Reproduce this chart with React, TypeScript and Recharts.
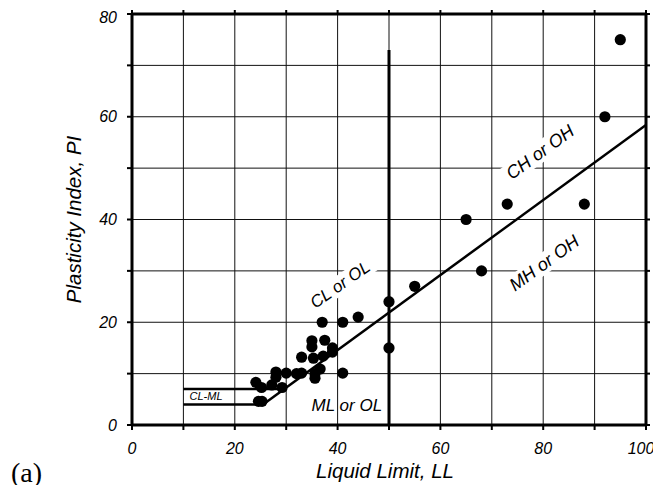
import React from "react";
import {
  ScatterChart,
  Scatter,
  XAxis,
  YAxis,
  CartesianGrid,
  ReferenceDot,
  Label,
} from "recharts";

// soil samples (liquid limit, plasticity index)
const sampleLL = [
  95, 92, 73, 88, 65, 68, 55, 50, 50, 44, 41, 37, 35, 35, 37.5, 39, 39, 37.2,
  35.3, 33, 36.6, 35.6, 35.6, 41, 33, 32, 30, 28, 28, 27.2, 29.2, 24.1, 25.2,
  24.6, 25.3,
];
const samplePI = [
  75, 60, 43, 43, 40, 30, 27, 24, 15, 21, 20, 20, 16.4, 15.2, 16.5, 15, 14.2,
  13.4, 13, 13.2, 10.9, 10, 9.1, 10.1, 10.1, 10, 10.1, 10.3, 9.3, 7.8, 7.3, 8.3,
  7.3, 4.6, 4.6,
];

// chart boundaries
const aLineLL = [25.5, 100];
const aLinePI = [4, 58.4];
const uLineLL = [50, 50];
const uLinePI = [0, 73];
const pi4LL = [10, 25.5];
const pi4PI = [4, 4];
const pi7LL = [10, 29.6];
const pi7PI = [7, 7];

const xTicks = [0, 10, 20, 30, 40, 50, 60, 70, 80, 90, 100];
const yTicks = [0, 10, 20, 30, 40, 50, 60, 70, 80];

// zone labels: text, LL, PI, size, angle, white box
const zoneText = ["CL or OL", "CH or OH", "MH or OH", "ML or OL", "CL-ML"];
const zoneLL = [40.5, 79.4, 80.2, 41.8, 14.4];
const zonePI = [27.3, 53.1, 31.5, 3.7, 5.6];
const zoneSize = [17, 18, 18, 17, 11];
const zoneAngle = [-35, -36, -36, 0, 0];
const zoneBox = [true, true, true, false, false];

const pairs = (xs: number[], ys: number[]) =>
  xs.map((x, i) => ({ ll: x, pi: ys[i] }));

const samples = pairs(sampleLL, samplePI);

const font = '"Liberation Sans", Arial, sans-serif';

const noDot = () => <g />;

const Dot = (props: any) => (
  <circle cx={props.cx} cy={props.cy} r={5.6} fill="#000" />
);

const tickStyle = {
  fill: "#000",
  fontSize: 16,
  fontStyle: "italic",
  fontFamily: font,
};

const fmt = (v: number) => (v % 20 === 0 ? String(v) : "");

function zoneShape(i: number) {
  return (props: any) => {
    const { cx, cy } = props;
    const w = zoneText[i].length * zoneSize[i] * 0.55;
    return (
      <g transform={`rotate(${zoneAngle[i]} ${cx} ${cy})`}>
        {zoneBox[i] && (
          <rect
            x={cx - w / 2 - 3}
            y={cy - zoneSize[i] / 2 - 1}
            width={w + 6}
            height={zoneSize[i] + 2}
            fill="#fff"
          />
        )}
        <text
          x={cx}
          y={cy}
          textAnchor="middle"
          dominantBaseline="central"
          fontFamily={font}
          fontStyle="italic"
          fontSize={zoneSize[i]}
          fill="#000"
        >
          {zoneText[i]}
        </text>
      </g>
    );
  };
}

export default function App() {
  return (
    <div style={{ position: "relative", width: 661, height: 493, margin: -8 }}>
      <div style={{ position: "absolute", left: 8, top: 8 }}>
        <ScatterChart
          width={645}
          height={477}
          margin={{ top: 5, right: 6, bottom: 30, left: 84 }}
        >
          <CartesianGrid stroke="#111" strokeWidth={1} />
          <XAxis
            type="number"
            dataKey="ll"
            domain={[0, 100]}
            ticks={xTicks}
            tickFormatter={fmt}
            tick={tickStyle}
            tickSize={5}
            tickMargin={13}
            height={30}
            axisLine={{ stroke: "#000", strokeWidth: 3 }}
            tickLine={{ stroke: "#000", strokeWidth: 2 }}
            allowDataOverflow
          >
            <Label
              content={(p: any) => {
                const vb = p.viewBox;
                return (
                  <text
                    x={vb.x + vb.width / 2 - 4}
                    y={vb.y + 53}
                    textAnchor="middle"
                    fontFamily={font}
                    fontStyle="italic"
                    fontSize={20.5}
                    fill="#000"
                  >
                    Liquid Limit, LL
                  </text>
                );
              }}
            />
          </XAxis>
          <XAxis
            xAxisId="top"
            orientation="top"
            type="number"
            dataKey="ll"
            domain={[0, 100]}
            ticks={xTicks}
            tickFormatter={() => ""}
            tickSize={4}
            height={1}
            axisLine={{ stroke: "#000", strokeWidth: 3 }}
            tickLine={{ stroke: "#000", strokeWidth: 2 }}
            allowDataOverflow
          />
          <YAxis
            type="number"
            dataKey="pi"
            domain={[0, 80]}
            ticks={yTicks}
            tickFormatter={fmt}
            tick={tickStyle}
            tickSize={5}
            tickMargin={10}
            width={40}
            axisLine={{ stroke: "#000", strokeWidth: 3 }}
            tickLine={{ stroke: "#000", strokeWidth: 2 }}
            allowDataOverflow
          >
            <Label
              content={(p: any) => {
                const vb = p.viewBox;
                const cx = vb.x - 19;
                const cy = vb.y + vb.height / 2;
                return (
                  <text
                    x={cx}
                    y={cy}
                    transform={`rotate(-90 ${cx} ${cy})`}
                    textAnchor="middle"
                    dominantBaseline="central"
                    fontFamily={font}
                    fontStyle="italic"
                    fontSize={20.5}
                    fill="#000"
                  >
                    Plasticity Index, PI
                  </text>
                );
              }}
            />
          </YAxis>
          <YAxis
            yAxisId="right"
            orientation="right"
            type="number"
            dataKey="pi"
            domain={[0, 80]}
            ticks={yTicks}
            tickFormatter={() => ""}
            tickSize={4}
            width={1}
            axisLine={{ stroke: "#000", strokeWidth: 3 }}
            tickLine={{ stroke: "#000", strokeWidth: 2 }}
            allowDataOverflow
          />

          {zoneText.map((t, i) => (
            <ReferenceDot
              key={t}
              x={zoneLL[i]}
              y={zonePI[i]}
              r={0}
              shape={zoneShape(i)}
            />
          ))}

          <Scatter
            data={pairs(uLineLL, uLinePI)}
            line={{ stroke: "#000", strokeWidth: 3 }}
            shape={noDot}
            isAnimationActive={false}
          />
          <Scatter
            data={pairs(aLineLL, aLinePI)}
            line={{ stroke: "#000", strokeWidth: 2.5 }}
            shape={noDot}
            isAnimationActive={false}
          />
          <Scatter
            data={pairs(pi4LL, pi4PI)}
            line={{ stroke: "#000", strokeWidth: 2.5 }}
            shape={noDot}
            isAnimationActive={false}
          />
          <Scatter
            data={pairs(pi7LL, pi7PI)}
            line={{ stroke: "#000", strokeWidth: 2.5 }}
            shape={noDot}
            isAnimationActive={false}
          />
          <Scatter data={samples} shape={Dot} isAnimationActive={false} />
        </ScatterChart>
      </div>
      <div
        style={{
          position: "absolute",
          left: 11,
          top: 458,
          fontFamily: '"Liberation Serif", "Times New Roman", serif',
          fontSize: 28,
          lineHeight: "30px",
          color: "#000",
        }}
      >
        (a)
      </div>
    </div>
  );
}
